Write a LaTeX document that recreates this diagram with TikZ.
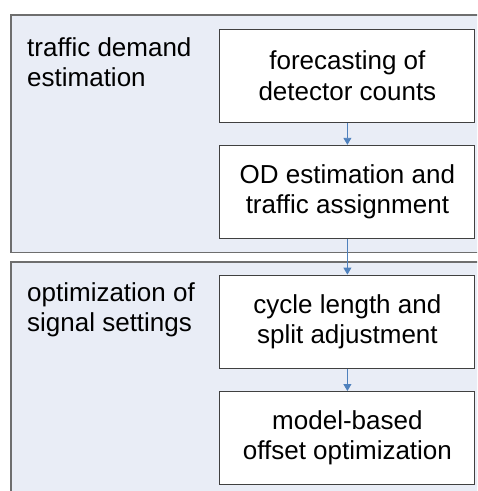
\documentclass[tikz,border=0pt]{standalone}
\usepackage{fontspec}
\setmainfont{Liberation Sans}
\usetikzlibrary{arrows.meta}
\definecolor{groupfill}{RGB}{233,237,246}
\definecolor{groupline}{RGB}{110,110,110}
\definecolor{boxline}{RGB}{64,64,64}
\definecolor{flowblue}{RGB}{79,129,189}
\tikzset{
  x=1pt, y=-1pt,
  group/.style={fill=groupfill, draw=groupline, line width=1.4pt},
  grouplabel/.style={anchor=north west, inner sep=0pt, align=left,
    font=\fontsize{26}{30.5}\selectfont},
  stepbox/.style={draw=boxline, fill=white, line width=1pt,
    minimum width=255pt, minimum height=93pt, inner sep=0pt, align=center,
    font=\fontsize{26}{30.5}\selectfont},
  flow/.style={draw=flowblue, line width=0.9pt,
    -{Triangle[width=8pt,length=7pt]}}
}
\begin{document}
\begin{tikzpicture}
  \useasboundingbox (0,0) rectangle (478,491);
  % the two stage panels, running off the right and bottom edges
  \begin{scope}
    \clip (0,0) rectangle (477,491);
    \path[group] (11,15) rectangle (500,252.5);
    \path[group] (11,262) rectangle (500,520);
  \end{scope}

  \node[grouplabel] (lab1) at (27,37) {traffic demand\\estimation};
  \node[grouplabel] (lab2) at (27,282) {optimization of\\signal settings};

  \node[stepbox] (fc) at (347.4,75.8) {forecasting of\\detector counts};
  \node[stepbox] (od) at (347.4,191.8) {OD estimation and\\traffic assignment};
  \node[stepbox] (cl) at (347.4,321.6) {cycle length and\\split adjustment};
  \node[stepbox] (mo) at (347.4,438) {model-based\\offset optimization};

  \draw[flow] (fc.south) -- (od.north);
  \draw[flow] (od.south) -- (cl.north);
  \draw[flow] (cl.south) -- (mo.north);
\end{tikzpicture}
\end{document}
